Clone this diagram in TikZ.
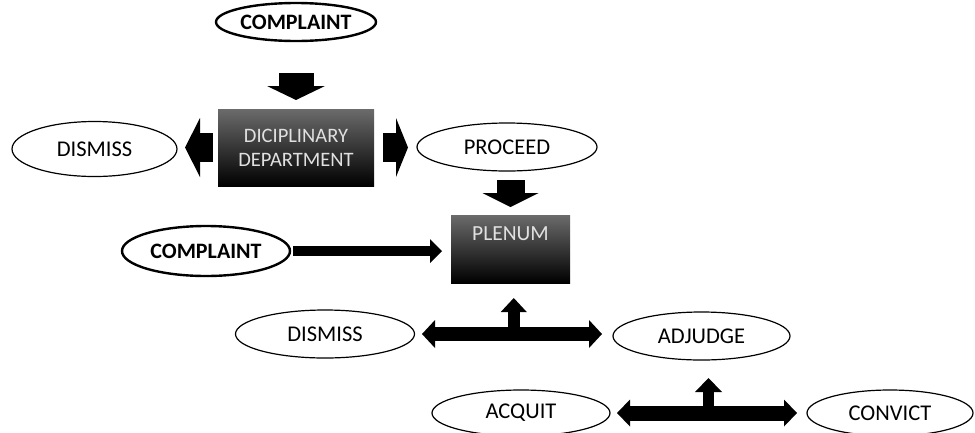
\documentclass[tikz,border=0pt]{standalone}
\usepackage{fontspec}
\setmainfont{Carlito}
\usetikzlibrary{arrows.meta,calc,shapes.geometric}

\begin{document}
\begin{tikzpicture}[x=1pt,y=-1pt,
term/.style={ellipse,draw,line width=1.2pt,inner sep=0pt,outer sep=0pt,font=\fontsize{22.5}{26}\selectfont},
keyterm/.style={term,line width=2.4pt,font=\fontsize{22}{26}\selectfont\bfseries},
panel/.style={rectangle,inner sep=0pt,outer sep=0pt,top color=black!58,middle color=black,bottom color=black,text=black!12,align=center,font=\fontsize{20.5}{24}\selectfont},
paneltext/.style={text=black!12,inner sep=0pt,font=\fontsize{21.5}{24}\selectfont},
blk/.style n args={3}{line width=#1,-{Triangle[width=#2,length=#3,line width=0pt]}},
dblk/.style n args={3}{line width=#1,{Triangle[width=#2,length=#3,line width=0pt]}-{Triangle[width=#2,length=#3,line width=0pt]}}]
\useasboundingbox (0,0) rectangle (975,432);
\node[keyterm,minimum width=160pt,minimum height=38pt] (top) at (296,22) {COMPLAINT};
\node[panel,minimum width=156pt,minimum height=77pt] (dept) at (296,147.5) {DICIPLINARY\\DEPARTMENT};
\node[term,minimum width=165pt,minimum height=55pt] (dropA) at (94.5,149) {DISMISS};
\node[term,minimum width=180pt,minimum height=48pt] (proceed) at (507,147) {PROCEED};
\node[panel,minimum width=119pt,minimum height=68pt,
  label={[paneltext,anchor=north,yshift=-11pt]north:PLENUM}] (plenum) at (510.5,249) {};
\node[keyterm,minimum width=168pt,minimum height=50pt] (side) at (206,251) {COMPLAINT};
\node[term,minimum width=179pt,minimum height=48pt] (dropB) at (325,334) {DISMISS};
\node[term,minimum width=177pt,minimum height=48pt] (adjudge) at (701.5,336) {ADJUDGE};
\node[term,minimum width=178pt,minimum height=46pt] (acquit) at (521,413) {ACQUIT};
\node[term,minimum width=166pt,minimum height=46pt] (convict) at (890,413) {CONVICT};
% block arrows
\draw[blk={35pt}{58pt}{14pt},shorten <=32pt,shorten >=9pt] (top) -- (dept);
\draw[blk={29pt}{59pt}{15pt},shorten <=5pt,shorten >=8pt] (dept.west) -- (dept.west -| dropA.east);
\draw[blk={29pt}{59pt}{12pt},shorten <=9pt,shorten >=9pt] (dept.east) -- (dept.east -| proceed.west);
\draw[blk={28pt}{56pt}{14pt},shorten <=9pt,shorten >=8pt] (plenum.north |- proceed.south) -- (plenum.north);
\draw[blk={10pt}{24pt}{12pt},shorten <=3pt,shorten >=9pt] (side.east) -- (side.east -| plenum.west);
% forks
\coordinate (forkA) at ($(dropB.east)!0.5!(dropB.east -| adjudge.west)$);
\draw[dblk={14pt}{28pt}{13pt},shorten <=7.5pt,shorten >=11pt] (dropB.east) -- (dropB.east -| adjudge.west);
\draw[blk={12pt}{26pt}{14pt},shorten >=15pt] (forkA) -- (forkA |- plenum.south);
\coordinate (forkB) at ($(acquit.east)!0.5!(convict.west)$);
\draw[dblk={15pt}{27pt}{13pt},shorten <=7pt,shorten >=10pt] (acquit.east) -- (convict.west);
\draw[blk={11pt}{27pt}{14pt},shorten >=18pt] (forkB) -- (forkB |- adjudge.south);
\end{tikzpicture}
\end{document}
